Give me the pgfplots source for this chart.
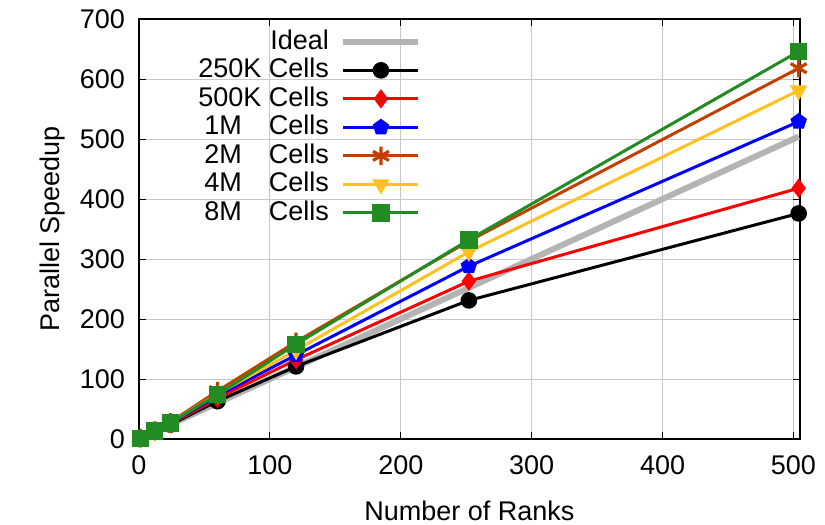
\documentclass[border=0pt]{standalone}
\usepackage{pgfplots}
\pgfplotsset{compat=1.18}
\usepackage{fontspec}
\setmainfont{Liberation Sans}
\definecolor{cideal}{RGB}{180,180,180}
\definecolor{c2m}{RGB}{192,64,0}
\definecolor{c4m}{RGB}{255,192,32}
\definecolor{c8m}{RGB}{34,139,34}
\definecolor{cgrid}{RGB}{200,200,200}
\begin{document}
\begin{tikzpicture}
\path[use as bounding box] (0,0) rectangle (412.5pt,262.5pt);
\begin{axis}[
  at={(69.5pt,43pt)}, anchor=south west,
  scale only axis, width=330.5pt, height=210pt,
  xmin=0, xmax=505, ymin=0, ymax=700,
  xtick={0,100,...,500}, ytick={0,100,...,700},
  grid=major, major grid style={cgrid, line width=0.5pt},
  axis line style={line width=1pt},
  tick align=inside, major tick length=3.5pt,
  tick style={black, line width=0.5pt},
  /pgf/number format/assume math mode=true,
  font=\fontsize{13.5}{16}\selectfont,
  xticklabel style={yshift=-5pt},
  yticklabel style={xshift=-3.5pt},
  xlabel={Number of Ranks}, ylabel={Parallel Speedup},
  xlabel style={yshift=-6pt},
  ylabel style={yshift=0.5pt},
  clip=false,
  legend cell align=right, legend plot pos=right,
  legend style={draw=none, fill=none, at={(0.437,0.99)}, anchor=north east,
    font=\fontsize{13.5}{16}\selectfont, row sep=0pt, column sep=5pt,
    nodes={inner sep=0.8pt, text height=9.9pt, text depth=2.75pt}},
  legend image code/.code={\draw[mark repeat=2,mark phase=2] plot coordinates {(0pt,0pt)(18.75pt,0pt)(37.5pt,0pt)};},
]
\addplot[cideal, line width=3pt] coordinates {(1,1)(12,12)(24,24)(60,60)(120,120)(252,252)(504,504)};
\addlegendentry{Ideal}
\addplot[black, line width=1.5pt, mark=*, mark size=3.4pt] coordinates {(1,1)(12,12)(24,24)(60,63)(120,121)(252,231)(504,376)};
\addlegendentry{250K Cells}
\addplot[red, line width=1.5pt, mark=diamond*, mark size=3.6pt] coordinates {(1,1)(12,12.5)(24,25)(60,68)(120,132)(252,263)(504,418)};
\addlegendentry{500K Cells}
\addplot[blue, line width=1.5pt, mark=pentagon*, mark size=3.4pt] coordinates {(1,1)(12,13)(24,26)(60,72)(120,140)(252,288)(504,529)};
\addlegendentry{1M\hspace{9.75pt} Cells}
\addplot[c2m, line width=1.5pt, mark=asterisk, mark size=4.6pt, mark options={line width=1.6pt}] coordinates {(1,1)(12,14)(24,28)(60,80)(120,162)(252,330)(504,618)};
\addlegendentry{2M\hspace{9.75pt} Cells}
\addplot[c4m, line width=1.5pt, mark=triangle*, mark size=3.6pt, mark options={rotate=180}] coordinates {(1,1)(12,13.5)(24,27)(60,75)(120,148)(252,312)(504,581)};
\addlegendentry{4M\hspace{9.75pt} Cells}
\addplot[c8m, line width=1.5pt, mark=square*, mark size=3.6pt] coordinates {(1,1)(12,13.5)(24,27)(60,74)(120,158)(252,332)(504,646)};
\addlegendentry{8M\hspace{9.75pt} Cells}
\end{axis}
\end{tikzpicture}
\end{document}
